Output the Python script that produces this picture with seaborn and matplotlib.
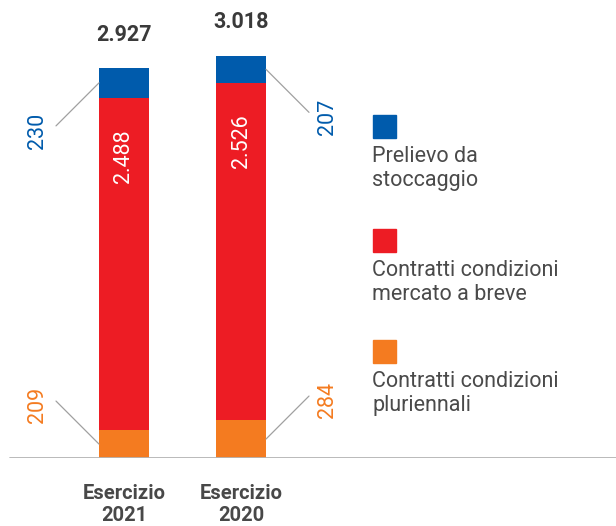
import numpy as np
import pandas as pd
import matplotlib.pyplot as plt
from matplotlib.patches import Rectangle
import seaborn as sns

# values
years = ['Esercizio\n2021', 'Esercizio\n2020']
pluriennali = [209, 284]
breve = [2488, 2526]
stoccaggio = [230, 207]
totals = [2927, 3018]
series_names = ['Prelievo da\nstoccaggio',
                'Contratti condizioni\nmercato a breve',
                'Contratti condizioni\npluriennali']
colors = ['#005BAC', '#ED1C24', '#F47B20']

sns.set_style('white')
plt.rcParams['font.family'] = ['Roboto', 'DejaVu Sans']

W, H = 616, 526
fig = plt.figure(figsize=(W / 100, H / 100), dpi=100)
base_px = 458          # baseline, px from top
scale = 0.1334         # px per unit
step = 117             # px between bars
x0 = 124               # px centre of first bar
bw = 50 / step

ax = fig.add_axes([0, (H - base_px) / H, 1, base_px / H])

df = pd.DataFrame({'year': years, 'orange': pluriennali, 'red': breve, 'blue': stoccaggio})
df['red_top'] = df['orange'] + df['red']
df['blue_top'] = df['red_top'] + df['blue']

sns.barplot(data=df, x='year', y='blue_top', color=colors[0], width=bw,
            saturation=1, linewidth=0, ax=ax)
sns.barplot(data=df, x='year', y='red_top', color=colors[1], width=bw,
            saturation=1, linewidth=0, ax=ax)
sns.barplot(data=df, x='year', y='orange', color=colors[2], width=bw,
            saturation=1, linewidth=0, ax=ax)

ax.set_xlim(-x0 / step, (W - x0) / step)
ax.set_ylim(0, base_px / scale)
ax.axhline(0, xmin=10 / W, xmax=1, color='#b4b4b4', lw=1.3, zorder=5)
sns.despine(ax=ax, left=True, bottom=True)
ax.set_yticks([])
ax.set_xlabel('')
ax.set_ylabel('')
ax.tick_params(axis='x', length=0, pad=19)
ax.set_xticks([0, 1])
ax.set_xticklabels(years, fontsize=14.5, color='#484848', fontweight='bold',
                   linespacing=1.2)

dx = 43 / step
dy = 43 / scale
line_kw = dict(color='#a0a0a0', lw=0.9)
for i in range(2):
    side = -1 if i == 0 else 1
    edge = i + side * bw / 2
    # total on top
    ax.text(i, totals[i] + 33 / scale, f'{totals[i] / 1000:.3f}', ha='center',
            va='center', fontsize=15.5, fontweight='bold', color='#3a3a3a')
    # red segment label
    ax.text(i, df['red_top'][i] - 58 / scale, f'{breve[i] / 1000:.3f}', rotation=90,
            ha='center', va='center', fontsize=15.5, color='white')
    # blue leader + label
    by = df['red_top'][i] + stoccaggio[i] / 2
    ex, ey = edge + side * dx, by - dy
    ax.plot([edge, ex], [by, ey], **line_kw)
    ax.text(ex + side * 18 / step, ey - 5 / scale, str(stoccaggio[i]), rotation=90,
            ha='center', va='center', fontsize=15.5, color=colors[0])
    # orange leader + label
    oy = pluriennali[i] / 2
    ex, ey = edge + side * dx, oy + dy
    ax.plot([edge, ex], [oy, ey], **line_kw)
    ax.text(ex + side * 18 / step, ey - 4 / scale, str(pluriennali[i]), rotation=90,
            ha='center', va='center', fontsize=15.5, color=colors[2])

# legend: square above text
for top, name, col in zip([115, 229, 340], series_names, colors):
    fig.patches.append(Rectangle((373 / W, 1 - (top + 23) / H), 23 / W, 23 / H,
                                 transform=fig.transFigure, color=col))
    fig.text(372 / W, 1 - (top + 31) / H, name, ha='left', va='top',
             fontsize=15.5, color='#4a4a4a', linespacing=1.2)

fig.savefig('out.png', dpi=100)
